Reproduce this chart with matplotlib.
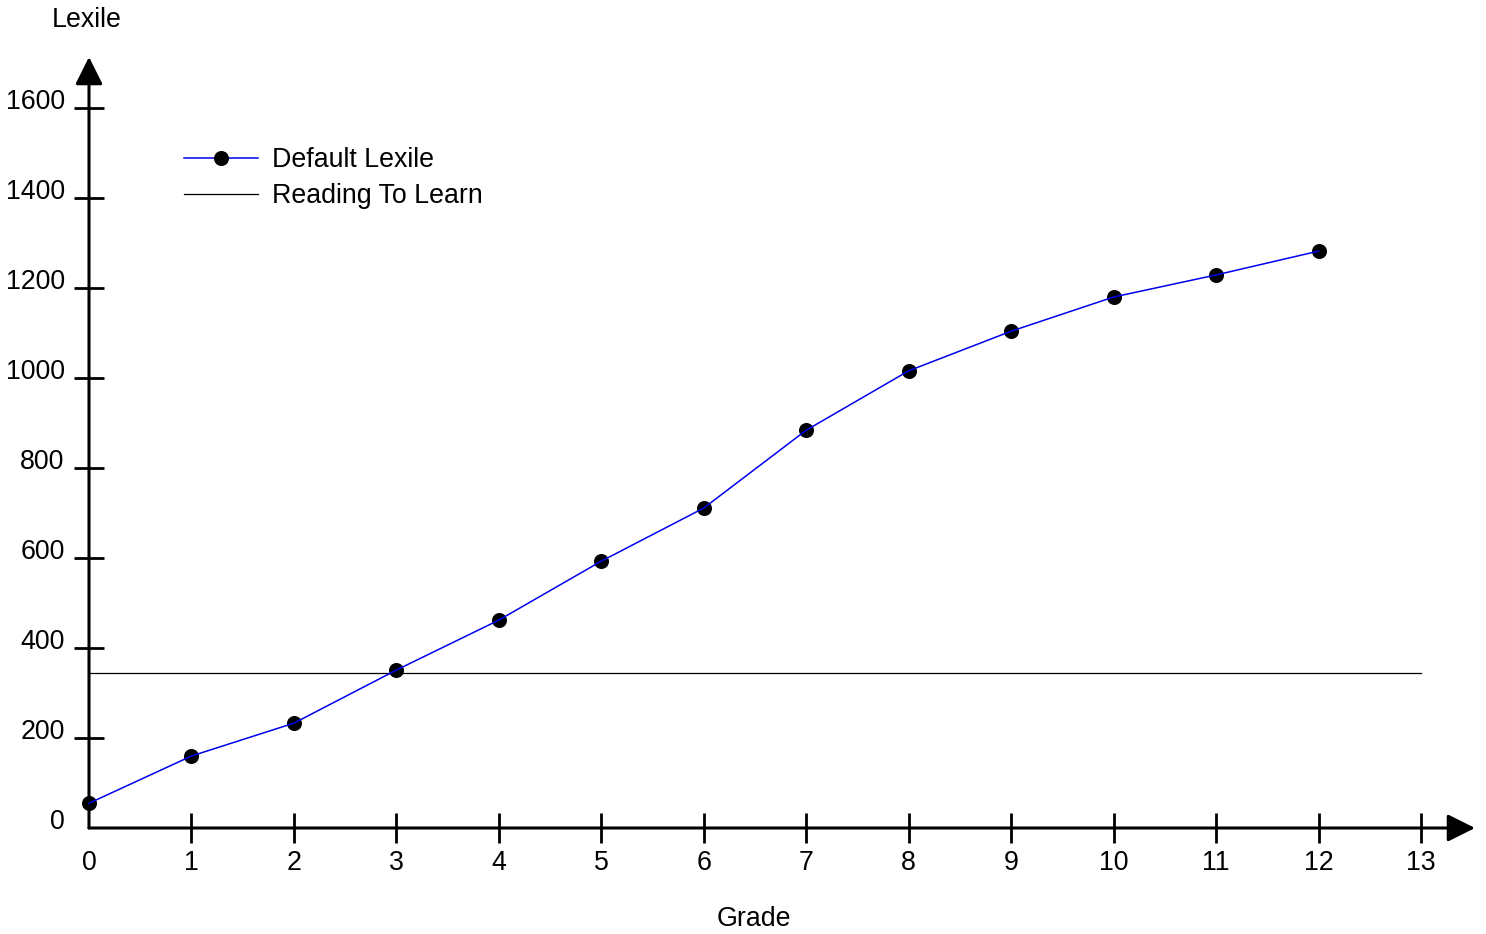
import numpy as np
import matplotlib.pyplot as plt
import matplotlib.transforms as mtransforms

plt.rcParams['font.family'] = ['Liberation Sans', 'DejaVu Sans']

grades = [0, 1, 2, 3, 4, 5, 6, 7, 8, 9, 10, 11, 12]
default_lexile = [55, 160, 233, 351, 462, 593, 711, 884, 1016, 1104, 1180, 1229, 1282]
reading_to_learn = 344
x_ticks = list(range(0, 14))
y_ticks = list(range(0, 1601, 200))

W, H = 1486, 934
fs = 19.3
fig = plt.figure(figsize=(W / 100, H / 100), dpi=100)

# axes placed in pixel terms: origin at (89, 828), arrow tips at x=1475 / y=57
x0, y0 = 89, 828
x_tip, y_tip = 1475, 57
ax = fig.add_axes([x0 / W, (H - y0) / H, (x_tip - x0) / W, (y0 - y_tip) / H])

px_per_grade = (1421 - x0) / 13
px_per_lex = (y0 - 108) / 1600
ax.set_xlim(0, (x_tip - x0) / px_per_grade)
ax.set_ylim(0, (y0 - y_tip) / px_per_lex)

ax.plot(grades, default_lexile, 'o', color='black', markersize=9.8, zorder=3, clip_on=False)
ax.plot(grades, default_lexile, '-', color='#0000ee', linewidth=1.1, zorder=4, clip_on=False)
ax.plot([0, 13], [reading_to_learn, reading_to_learn], color='black', linewidth=0.9, zorder=2)

# legend proxies
h1, = ax.plot([], [], '-', color='#0000ee', linewidth=1.1, marker='o',
              markerfacecolor='black', markeredgecolor='black', markersize=9.8)
h2, = ax.plot([], [], '-', color='black', linewidth=0.9)
ax.legend([h1, h2], ['Default Lexile', 'Reading To Learn'], frameon=False,
          loc='upper left', bbox_to_anchor=(184 / W, 1 - 147 / H),
          bbox_transform=fig.transFigure, fontsize=fs, handlelength=2.76,
          handletextpad=0.52, labelspacing=0.37, borderpad=0, borderaxespad=0)

for s in ax.spines.values():
    s.set_visible(False)

ax.annotate('', xy=(1, 0), xycoords='axes fraction', xytext=(0, 0),
            arrowprops=dict(arrowstyle='-|>', color='black', lw=2.2,
                            mutation_scale=42, shrinkA=0, shrinkB=0))
ax.annotate('', xy=(0, 1), xycoords='axes fraction', xytext=(0, 0),
            arrowprops=dict(arrowstyle='-|>', color='black', lw=2.2,
                            mutation_scale=42, shrinkA=0, shrinkB=0))

ax.set_xticks(x_ticks)
ax.set_yticks(y_ticks)
ax.tick_params(direction='inout', length=22, width=2, labelsize=fs, colors='black')
ax.tick_params(axis='x', pad=5)
ax.tick_params(axis='y', pad=6.5)

ax.xaxis.get_major_ticks()[0].tick1line.set_visible(False)
ax.yaxis.get_major_ticks()[0].tick1line.set_visible(False)

offset = mtransforms.ScaledTranslation(0, 9 / 100, fig.dpi_scale_trans)
for lbl in ax.get_yticklabels():
    lbl.set_transform(lbl.get_transform() + offset)

fig.text(87 / W, 1 - 20 / H, 'Lexile', ha='center', va='center', fontsize=fs)
fig.text(754 / W, 1 - 919 / H, 'Grade', ha='center', va='center', fontsize=fs)

fig.savefig('out.png', dpi=100)
